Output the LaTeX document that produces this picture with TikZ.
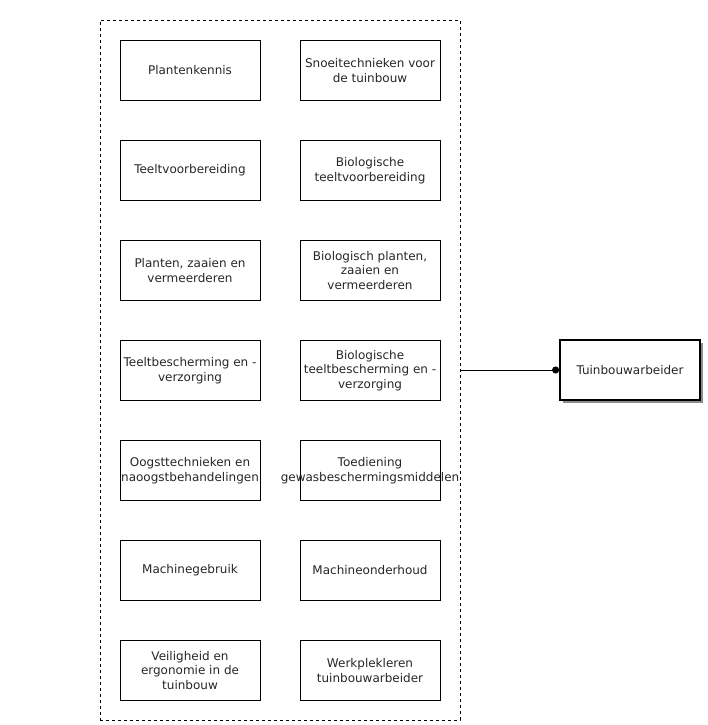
\documentclass[tikz,border=0pt]{standalone}
\usepackage{fontspec}
\setmainfont{DejaVu Sans}
\usetikzlibrary{arrows.meta,shadows}
\begin{document}
\begin{tikzpicture}[x=1pt,y=-1pt,
  box/.style={draw=black,line width=0.8pt,minimum width=140pt,minimum height=60pt,inner sep=0pt,align=center,font=\fontsize{12}{14.5}\selectfont,text=black!85},
  mainbox/.style={box,line width=1.8pt,drop shadow={shadow xshift=3pt,shadow yshift=-3pt,fill=black!45,opacity=1}},
  container/.style={draw=black,line width=0.8pt,dash pattern=on 3pt off 3pt,minimum width=360pt,minimum height=700pt,inner sep=0pt},
  link/.style={line width=0.8pt,-{Circle[length=7pt,width=7pt]}}]
\useasboundingbox (0,0) rectangle (708,725);
\node[container] (grp) at (280,370) {};
\node[box] (a1) at (190,70.5) {Plantenkennis};
\node[box] (b1) at (370,70.5) {Snoeitechnieken voor\\de tuinbouw};
\node[box] (a2) at (190,170.5) {Teeltvoorbereiding};
\node[box] (b2) at (370,170.5) {Biologische\\teeltvoorbereiding};
\node[box] (a3) at (190,270.5) {Planten, zaaien en\\vermeerderen};
\node[box] (b3) at (370,270.5) {Biologisch planten,\\zaaien en\\vermeerderen};
\node[box] (a4) at (190,370.5) {Teeltbescherming en -\\verzorging};
\node[box] (b4) at (370,370.5) {Biologische\\teeltbescherming en -\\verzorging};
\node[box] (a5) at (190,470.5) {Oogsttechnieken en\\naoogstbehandelingen};
\node[box] (b5) at (370,470.5) {\makebox[130pt]{Toediening}\\\makebox[130pt]{gewasbeschermingsmiddelen}};
\node[box] (a6) at (190,570.5) {Machinegebruik};
\node[box] (b6) at (370,570.5) {Machineonderhoud};
\node[box] (a7) at (190,670.5) {Veiligheid en\\ergonomie in de\\tuinbouw};
\node[box] (b7) at (370,670.5) {Werkplekleren\\tuinbouwarbeider};
\node[mainbox,fill=white] (t) at (630,370) {Tuinbouwarbeider};
\draw[link] (grp.east) -- (t.west);
\end{tikzpicture}
\end{document}
